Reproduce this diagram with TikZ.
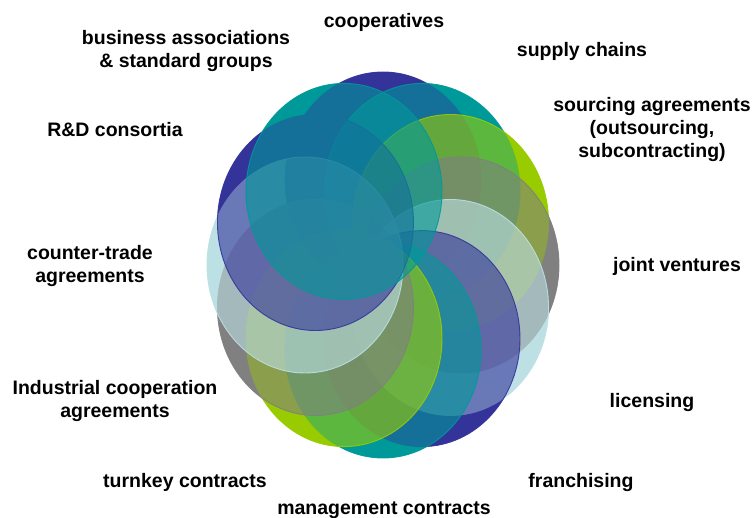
\documentclass[tikz,border=0pt]{standalone}
\usepackage{fontspec}
\setmainfont{Liberation Sans}
\usepackage{tikz}

% petal colours, repeated round the ring
\definecolor{petal0}{HTML}{333399}
\definecolor{petal1}{HTML}{009999}
\definecolor{petal2}{HTML}{99CC00}
\definecolor{petal3}{HTML}{808080}
\definecolor{petal4}{HTML}{BCE0E4}

\tikzset{
  formtext/.style={font=\bfseries\fontsize{19.5}{23}\selectfont, align=center, inner sep=0pt},
  petal/.style={line width=0.9pt, fill opacity=0.6, draw opacity=0.9},
}

\begin{document}
\begin{tikzpicture}[x=1pt, y=-1pt]
  \useasboundingbox (0,0) rectangle (752,518);
  % Sizes
  \pgfmathsetmacro{\ringx}{78}
  \pgfmathsetmacro{\ringy}{85}
  \pgfmathsetmacro{\radx}{98}
  \pgfmathsetmacro{\rady}{108}

  % solid underlay, last petal first
  \foreach \i in {11,10,...,0} {
    \pgfmathtruncatemacro{\k}{mod(\i,5)}
    \fill[petal\k] ({383+\ringx*cos(90-30*\i)}, {265-\ringy*sin(90-30*\i)})
      ellipse [x radius=\radx, y radius=\rady];
  }
  % see-through petals, clockwise from the top
  \foreach \i in {0,...,11} {
    \pgfmathtruncatemacro{\k}{mod(\i,5)}
    \filldraw[petal, fill=petal\k, draw=petal\k]
      ({383+\ringx*cos(90-30*\i)}, {265-\ringy*sin(90-30*\i)})
      ellipse [x radius=\radx, y radius=\rady];
  }

  % labels
  \node[formtext, anchor=base] (coop) at (384,28) {cooperatives};
  \node[formtext] (busi) at (186,51) {business associations\\\& standard groups};
  \node[formtext, anchor=base] (rnd) at (115,137) {R\&D consortia};
  \node[formtext, anchor=base] (supply) at (582,57) {supply chains};
  \node[formtext] (sourcing) at (652,130) {sourcing agreements\\(outsourcing,\\subcontracting)};
  \node[formtext, anchor=base] (joint) at (677,272) {joint ventures};
  \node[formtext] (counter) at (90,266) {counter-trade\\agreements};
  \node[formtext] (industrial) at (115,401) {Industrial cooperation\\agreements};
  \node[formtext, anchor=base] (licensing) at (652,407) {licensing};
  \node[formtext, anchor=base] (turnkey) at (185,487) {turnkey contracts};
  \node[formtext, anchor=base] (franchising) at (581,487) {franchising};
  \node[formtext, anchor=base] (management) at (384,514) {management contracts};
\end{tikzpicture}
\end{document}
